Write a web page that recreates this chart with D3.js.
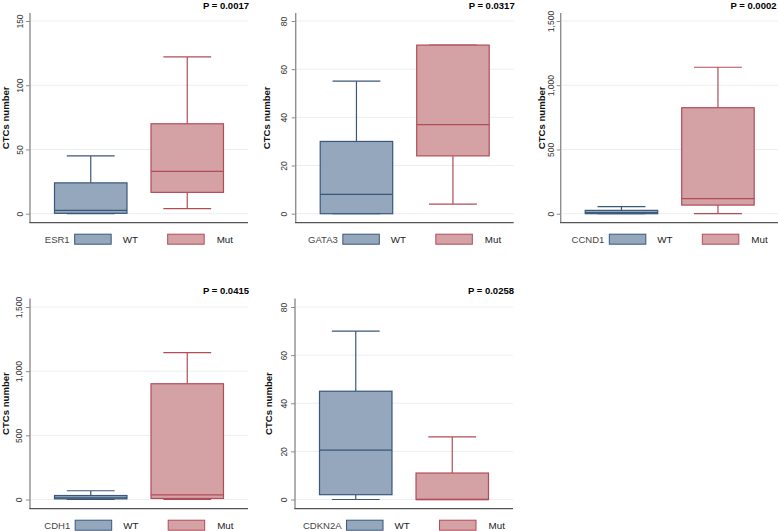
<!DOCTYPE html>
<html><head><meta charset="utf-8">
<script src="https://cdn.jsdelivr.net/npm/d3@7"></script>
<style>body{margin:0;background:#fff}svg{display:block}</style>
</head><body>
<svg id="c" width="778" height="531"></svg>
<script>
// ---- data ----
const genes = ["ESR1", "GATA3", "CCND1", "CDH1", "CDKN2A"];
const pLabels = ["P = 0.0017", "P = 0.0317", "P = 0.0002", "P = 0.0415", "P = 0.0258"];
const groups = ["WT", "Mut"];
const yTickValues = [
  [0, 50, 100, 150],
  [0, 20, 40, 60, 80],
  [0, 500, 1000, 1500],
  [0, 500, 1000, 1500],
  [0, 20, 40, 60, 80]
];
// box statistics: [lower whisker, Q1, median, Q3, upper whisker]
const wtStats = [
  [0, 0.3, 2.6, 24, 45],
  [0, 0, 8, 30, 55],
  [0, 0, 8, 26, 55],
  [0, 5, 12, 31, 68],
  [0, 2, 20.5, 45, 70]
];
const mutStats = [
  [4, 16.6, 33, 70, 122],
  [4, 24, 37, 70, 70],
  [0, 67, 117, 825, 1140],
  [0, 8, 36, 902, 1144],
  [0, 0, 0, 11, 26]
];
const yAxisTitle = "CTCs number";

// ---- layout / style ----
const panels = [
  {ax: 30,    row: 0, lab: 22.5, tit: 8.5},
  {ax: 295.7, row: 0, lab: 287,  tit: 270},
  {ax: 560.7, row: 0, lab: 553.5, tit: 545},
  {ax: 30,    row: 1, lab: 21.5, tit: 8.5},
  {ax: 295,   row: 1, lab: 287,  tit: 271.5}
];
const rows = [
  {top: 13, yMaxPix: 21, y0Pix: 213.7, xAxisY: 222.7},
  {top: 298.5, yMaxPix: 307, y0Pix: 499.5, xAxisY: 508.7}
];
const plotW = 218;
const fills = {WT: "#94a7bd", Mut: "#d4a1a5"};
const strokes = {WT: "#3a5779", Mut: "#b24c57"};
const font = "'Liberation Sans', Arial, Helvetica, sans-serif";

const svg = d3.select("#c");
const W = +svg.attr("width");

genes.forEach((gene, i) => {
  const P = panels[i], R = rows[P.row];
  const ticks = yTickValues[i];
  const g = svg.append("g");
  const y = d3.scaleLinear().domain([0, d3.max(ticks)]).range([R.y0Pix, R.yMaxPix]);
  const x = d3.scaleBand().domain(groups).range([P.ax, P.ax + plotW]).paddingInner(0.249).paddingOuter(0.254);

  // gridlines
  g.selectAll("line.grid").data(ticks).join("line")
    .attr("x1", P.ax).attr("x2", P.ax + plotW)
    .attr("y1", d => y(d)).attr("y2", d => y(d))
    .attr("stroke", "#eaeff3").attr("stroke-width", 1);

  // y axis
  const yAxis = d3.axisLeft(y).tickValues(ticks).tickSize(4).tickPadding(0).tickFormat(d3.format(","));
  const ya = g.append("g").attr("transform", `translate(${P.ax},0)`).call(yAxis);
  ya.select(".domain").remove();
  ya.selectAll(".tick line").attr("stroke", "#8a8a8a").attr("stroke-width", 1);
  ya.selectAll(".tick text")
    .attr("transform", `rotate(-90)`)
    .attr("x", 0).attr("y", P.lab - P.ax).attr("dy", 0)
    .attr("text-anchor", "middle")
    .attr("font-family", font).attr("font-size", 8.5).attr("fill", "#333");
  g.append("line").attr("x1", P.ax).attr("x2", P.ax)
    .attr("y1", R.top).attr("y2", R.xAxisY)
    .attr("stroke", "#8f8f8f").attr("stroke-width", 1.4);
  // x axis line
  g.append("line").attr("x1", P.ax - 0.7).attr("x2", P.ax + plotW)
    .attr("y1", R.xAxisY).attr("y2", R.xAxisY)
    .attr("stroke", "#555").attr("stroke-width", 1.3);

  // y title
  g.append("text")
    .attr("transform", `translate(${P.tit},${(R.top + R.xAxisY) / 2}) rotate(-90)`)
    .attr("text-anchor", "middle")
    .attr("font-family", font).attr("font-weight", "bold").attr("font-size", 9.6).attr("fill", "#111")
    .text(yAxisTitle);

  // P label
  g.append("text").attr("x", Math.min(P.ax + plotW + 1, W - 1.5)).attr("y", R.top - 4.5)
    .attr("text-anchor", "end")
    .attr("font-family", font).attr("font-weight", "bold").attr("font-size", 9.5).attr("fill", "#000")
    .text(pLabels[i]);

  // boxes
  const stats = {WT: wtStats[i], Mut: mutStats[i]};
  groups.forEach(grp => {
    const s = stats[grp];
    const cx = x(grp) + x.bandwidth() / 2;
    const bw = x.bandwidth();
    const capW = bw * 0.66;
    const col = strokes[grp];
    const bg = g.append("g");
    // whiskers
    bg.append("line").attr("x1", cx).attr("x2", cx).attr("y1", y(s[3])).attr("y2", y(s[4]))
      .attr("stroke", col).attr("stroke-width", 1.2);
    bg.append("line").attr("x1", cx).attr("x2", cx).attr("y1", y(s[1])).attr("y2", y(s[0]))
      .attr("stroke", col).attr("stroke-width", 1.2);
    bg.append("line").attr("x1", cx - capW / 2).attr("x2", cx + capW / 2).attr("y1", y(s[4])).attr("y2", y(s[4]))
      .attr("stroke", col).attr("stroke-width", 1.2);
    bg.append("line").attr("x1", cx - capW / 2).attr("x2", cx + capW / 2).attr("y1", y(s[0])).attr("y2", y(s[0]))
      .attr("stroke", col).attr("stroke-width", 1.2);
    // box
    bg.append("rect").attr("x", x(grp)).attr("width", bw)
      .attr("y", y(s[3])).attr("height", Math.max(0.5, y(s[1]) - y(s[3])))
      .attr("fill", fills[grp]).attr("stroke", col).attr("stroke-width", 1.2);
    // median
    bg.append("line").attr("x1", x(grp)).attr("x2", x(grp) + bw).attr("y1", y(s[2])).attr("y2", y(s[2]))
      .attr("stroke", col).attr("stroke-width", 1.3);
  });

  // legend
  const lg = g.append("g");
  const ly = R.xAxisY + 11.5;
  const gt = lg.append("text").attr("y", ly + 9)
    .attr("font-family", font).attr("font-size", 9.5).attr("fill", "#444").text(gene);
  const gw = gt.node().getComputedTextLength();
  const blockW = 158.5, gap = 5;
  const start = P.ax + plotW / 2 - (gw + gap + blockW) / 2;
  gt.attr("x", start);
  const sx = start + gw + gap;
  const offs = {WT: {sw: 0, tx: 48}, Mut: {sw: 93, tx: 142}};
  groups.forEach(grp => {
    lg.append("rect").attr("x", sx + offs[grp].sw).attr("y", ly).attr("width", 36.5).attr("height", 10)
      .attr("fill", fills[grp]).attr("stroke", strokes[grp]).attr("stroke-width", 1);
    lg.append("text").attr("x", sx + offs[grp].tx).attr("y", ly + 9)
      .attr("font-family", font).attr("font-size", 9.8).attr("fill", "#222").text(grp);
  });
});
</script>
</body></html>
